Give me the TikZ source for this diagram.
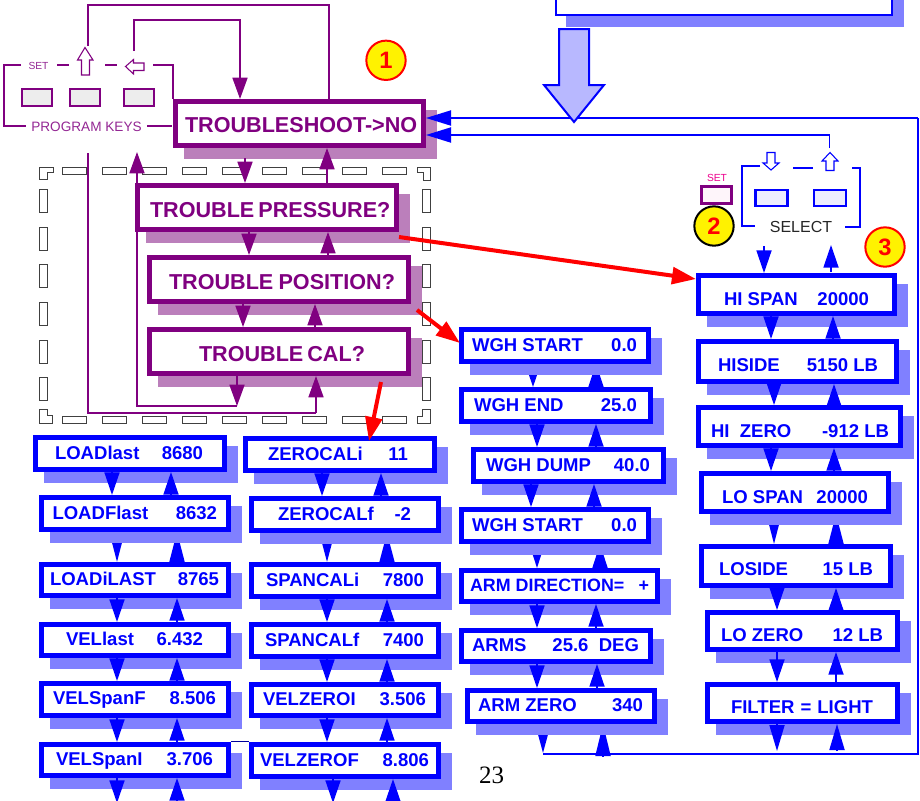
\documentclass[tikz,border=0pt]{standalone}
\usepackage{fontspec}
\setmainfont{Liberation Sans}
\newfontfamily\pagefont{Liberation Serif}
\usetikzlibrary{arrows.meta}
\pgfdeclarelayer{under}\pgfdeclarelayer{shad}\pgfdeclarelayer{arr}\pgfsetlayers{under,shad,arr,main}
\definecolor{pur}{HTML}{800080}
\definecolor{purshad}{HTML}{BB7FBB}
\definecolor{blushad}{HTML}{8080FF}
\definecolor{bigfill}{HTML}{B8B8FF}
\tikzset{
 anybox/.style={rectangle,fill=white,line width=3.75pt,inner sep=0pt},
 bluebox/.style={anybox,draw=blue,text=blue,font=\fontsize{13.9}{16}\selectfont\bfseries},
 purbox/.style={anybox,draw=pur,text=pur,font=\fontsize{16.2}{18}\selectfont\bfseries},
 blueshad/.style={fill=blushad},
 purshadow/.style={fill=purshad},
 chainb/.style={blue,line width=1.3pt,-{Triangle[width=11.25pt,length=17pt]}},
 chainu/.style={blue,line width=1.3pt,-{Triangle[width=11.25pt,length=#1]}},
 chainp/.style={pur,line width=1.3pt,-{Triangle[width=11.25pt,length=16pt]}},
 inhead/.style={blue,line width=1.4pt,-{Triangle[width=11.25pt,length=18.75pt]}},
 wireb/.style={blue,line width=1.4pt},
 wirethin/.style={blue!60!black,line width=.8pt},
 wirep/.style={pur,line width=1.3pt},
 brackb/.style={blue,line width=1.2pt},
 brackp/.style={pur,line width=1.2pt},
 redarrow/.style={red,line width=3pt,-{Triangle[width=12.5pt,length=18pt]}},
 keyp/.style={rectangle,draw=pur,fill=black!7,line width=1.8pt,minimum width=22.5pt,minimum height=12.5pt,inner sep=0pt},
 keyb/.style={rectangle,draw=blue,fill=blue!7,line width=2pt,minimum width=24pt,minimum height=12pt,inner sep=0pt},
 keym/.style={rectangle,draw=pur,fill=magenta!4,line width=2.2pt,minimum width=22.5pt,minimum height=12.75pt,inner sep=0pt},
 callout/.style={circle,fill=yellow,text=red,line width=1.5pt,minimum size=29.5pt,inner sep=0pt,font=\fontsize{17.8}{20}\selectfont\bfseries},
 framebit/.style={draw=black!75,fill=white,line width=.75pt},
 hollowb/.style={draw=blue,fill=white,line width=.8pt},
 hollowp/.style={draw=pur,fill=white,line width=.8pt},
 smalllabel/.style={inner sep=0pt,font=\fontsize{7.7}{9}\selectfont},
}
% name (x1,y1,x2,y2) (text left, text right, baseline) content
\def\setbx#1(#2,#3,#4,#5)(#6,#7,#8)#9{%
 \begin{pgfonlayer}{shad}\fill[shadsty] ({#2+11},{#3+11}) rectangle ({#4+11},{#5+11});\end{pgfonlayer}%
 \pgfmathsetlengthmacro\bxW{(#4-#2-5)*0.75pt}%
 \pgfmathsetlengthmacro\bxH{(#5-#3-5)*0.75pt}%
 \pgfmathsetlengthmacro\bxL{(#6-#2-2.5)*0.75pt}%
 \pgfmathsetlengthmacro\bxR{(#4-2.5-#7)*0.75pt}%
 \pgfmathsetlengthmacro\bxD{((#3+#5)/2-#8)*0.75pt}%
 \node[boxsty,minimum width=\bxW,minimum height=\bxH] (#1) at ({(#2+#4)/2},{(#3+#5)/2})
  {\smash{\raisebox{\bxD}{\hbox to \bxW{\kern\bxL #9\kern\bxR}}}};}
\def\bbox{\tikzset{boxsty/.style={bluebox},shadsty/.style={blueshad}}\setbx}
\def\pbox{\tikzset{boxsty/.style={purbox},shadsty/.style={purshadow}}\setbx}
\newcommand\cnat[6]{%
 \begin{pgfonlayer}{#1}%
 \coordinate (xd) at (#5,0); \coordinate (xu) at (#6,0);
 \draw[#2] (xd |- #3.south) -- (xd |- #4.north);
 \draw[#2] (xu |- #4.north) -- (xu |- #3.south);
 \end{pgfonlayer}}
\newcommand\cn{\cnat{arr}}
\newcommand\cnu{\cnat{under}}
\begin{document}
\begin{tikzpicture}[x=0.75pt,y=-0.75pt]
\useasboundingbox (0,0) rectangle (920,800);
\clip (0,0) rectangle (920,800);
% dashed frame of little outlined bars
\begin{pgfonlayer}{shad}
\clip (0,0) rectangle (920,800);
\foreach \a in {62,102,...,382} {
 \draw[framebit] (\a,167) rectangle ({\a+24},174);
 \draw[framebit] (\a,416) rectangle ({\a+24},423);
}
\foreach \b in {189,227,264,302,340,377} {
 \draw[framebit] (39.5,\b) rectangle (47.5,{\b+23});
 \draw[framebit] (422,\b) rectangle (430,{\b+23});
}
\draw[framebit] (39.5,167) -- (53,167) -- (53,172) -- (47,172) -- (47,179.5) -- (39.5,179.5) -- cycle;
\draw[framebit] (417,167) -- (430,167) -- (430,180) -- (423,180) -- (423,172.5) -- (417,172.5) -- cycle;
\draw[framebit] (39.5,409.5) -- (47,409.5) -- (47,415) -- (52.5,415) -- (52.5,423) -- (39.5,423) -- cycle;
\draw[framebit] (422.5,409.5) -- (430,409.5) -- (430,423) -- (417,423) -- (417,416) -- (422.5,416) -- cycle;
\fill[blueshad] (566,-5) rectangle (904,27);
\end{pgfonlayer}

% top box
\node[rectangle,draw=blue,fill=white,line width=1.5pt,minimum width=252pt,minimum height=18.75pt,inner sep=0pt] (topbox) at (724,2.5) {};

% purple boxes
\pbox{tsh}(173,99,426,148)(185,418,132){TROUBLESHOOT->NO}
\pbox{prs}(135,183,399,232)(150,390,217){TROUBLE PRESSURE?}
\pbox{pos}(147,255,411,304)(169,395,289){TROUBLE POSITION?}
\pbox{cal}(147,327,411,376)(199,363,361){TROUBLE CAL?}

% left column
\bbox{lla}(33,435,227,472)(55,203,459){LOADlast\hfill 8680}
\bbox{lfl}(39,495,231,532)(52.5,217,519){LOADFlast\hfill 8632}
\bbox{lil}(39,562,231,598)(50,219,585){LOADiLAST\hfill 8765}
\bbox{vla}(39,622,231,658)(66,203,645){VELlast\hfill 6.432}
\bbox{vsf}(39,681,231,718)(53,216,704){VELSpanF\hfill 8.506}
\bbox{vsi}(39,742,231,778)(56,213,765){VELSpanI\hfill 3.706}
% second column
\bbox{zci}(243,436,437,473)(268,408,460){ZEROCALi\hfill 11}
\bbox{zcf}(249,496,441,533)(278,411,520){ZEROCALf\hfill -2}
\bbox{sci}(249,562,441,599)(266,424,586){SPANCALi\hfill 7800}
\bbox{scf}(249,622,441,659)(265,424,646){SPANCALf\hfill 7400}
\bbox{vzi}(249,682,441,718)(263,426,705){VELZEROI\hfill 3.506}
\bbox{vzf}(249,742,441,779)(260,429,766){VELZEROF\hfill 8.806}
% third column
\bbox{wst}(459,327,651,364)(472,637,351){WGH START\hfill 0.0}
\bbox{wen}(459,387,653,424)(474,637,411){WGH END\hfill 25.0}
\bbox{wdu}(471,447,666,484)(486,650,471){WGH DUMP\hfill 40.0}
\bbox{wsb}(459,507,651,544)(472,637,531){WGH START\hfill 0.0}
\bbox{adr}(459,568,660,604)(470,649,591){\fontsize{13.4}{16}\selectfont ARM DIRECTION=\hfill +}
\bbox{arm}(459,628,653,664)(472,639,651){ARMS\hfill 25.6\ \ DEG}
\bbox{azr}(465,688,657,724)(478,643,711){ARM ZERO\hfill 340}
% fourth column
\bbox{hsp}(696,273,897,316)(724,869,305){HI SPAN\hfill 20000}
\bbox{hsd}(696,339,899,384)(718,878,371){HISIDE\hfill 5150 LB}
\bbox{hze}(696,405,903,448)(711,889,437){HI\ \ ZERO\hfill -912 LB}
\bbox{lsp}(699,471,891,514)(722,868,503){LO SPAN\hfill 20000}
\bbox{lsd}(699,544,893,588)(719,873,575){LOSIDE\hfill 15 LB}
\bbox{lze}(705,610,900,652)(721,883,641){LO ZERO\hfill 12 LB}
\bbox{fil}(705,682,900,724)(731,873,713){FILTER = LIGHT}

% chain arrows
\coordinate (tshd) at (245,158);
\coordinate (tshu) at (327,183);
\begin{pgfonlayer}{arr}
\draw[chainp] (tshd) -- (tshd |- prs.north);
\draw[chainp] (tshu |- prs.north) -- (tshu |- tsh.south);
\end{pgfonlayer}
\cn{chainp}{prs}{pos}{249}{328}
\cn{chainp}{pos}{cal}{243}{315}
\cn{chainb}{lla}{lfl}{112}{171}
\cnu{chainu=22.5pt}{lfl}{lil}{117}{177}
\cn{chainb}{lil}{vla}{117}{177}
\cn{chainb}{vla}{vsf}{117}{177}
\cn{chainb}{vsf}{vsi}{117}{177}
\cn{chainb}{zci}{zcf}{322}{381}
\cnu{chainu=22pt}{zcf}{sci}{327}{387}
\cn{chainb}{sci}{scf}{327}{387}
\cn{chainb}{scf}{vzi}{327}{387}
\cn{chainb}{vzi}{vzf}{327}{387}
\cnu{chainu=17.25pt}{wst}{wen}{533}{596}
\cn{chainb}{wen}{wdu}{537}{596}
\cn{chainb}{wdu}{wsb}{531}{594}
\cnu{chainu=18pt}{wsb}{adr}{537}{600}
\cn{chainb}{adr}{arm}{537}{596}
\cn{chainb}{arm}{azr}{537}{597}
\cn{chainb}{hsp}{hsd}{771}{833}
\cn{chainb}{hsd}{hze}{774}{834}
\cn{chainb}{hze}{lsp}{771}{834}
\cnu{chainu=22.5pt}{lsp}{lsd}{774}{836}
\cn{chainb}{lsd}{lze}{777}{836}
\cn{chainb}{lze}{fil}{777}{836}

% keys and labels
\node[keyp] (k1) at (37,97.5) {};
\node[keyp] (k2) at (85,97.5) {};
\node[keyp] (k3) at (139,97.5) {};
\node[smalllabel,text=pur!85] (setp) at (38.5,66) {SET};
\node[inner sep=0pt,text=pur!85,font=\fontsize{10.2}{12}\selectfont] (pk) at (86.5,127) {PROGRAM KEYS};
\node[keyb] (k4) at (771.5,198) {};
\node[keyb] (k5) at (830,198) {};
\node[keym] (k6) at (716.5,195) {};
\node[smalllabel,text=magenta] (setm) at (717,178) {SET};
\node[inner sep=0pt,text=black!85,font=\fontsize{12}{14}\selectfont] (sel) at (801,227) {SELECT};
\node[callout,draw=red] (c1) at (386,60.3) {1};
\node[callout,draw=black] (c2) at (714,226) {2};
\node[callout,draw=red] (c3) at (885,247) {3};
\node[inner sep=0pt,anchor=base,font=\pagefont\fontsize{18.75}{20}\selectfont] (pg) at (491.5,783) {23};

% key frames
\draw[brackp] (21,65) -- (4,65) -- (4,126) -- (26,126);
\draw[brackp] (147,126) -- (172,126);
\draw[brackp] (153,65) -- (173,65) -- (173 ,99);
\draw[brackp] (57,65) -- (69,65);
\draw[brackp] (105,65) -- (117,65);
\draw[brackb] (760,166) -- (742,166) -- (742,226) -- (755,226);
\draw[brackb] (852,168) -- (860,168) -- (860,227) -- (845,227);
\draw[brackb] (793,168) -- (813,168);

% hollow key arrows
\draw[hollowp] (85,47.5) -- (93,60) -- (89.5,60) -- (89.5,75) -- (81.5,75) -- (81.5,60) -- (77.5,60) -- cycle;
\draw[hollowp] (125.5,66.5) -- (133.5,59.5) -- (133.5,63) -- (144,63) -- (144,70.5) -- (133.5,70.5) -- (133.5,74) -- cycle;
\draw[hollowb] (771,170) -- (763,163) -- (767,163) -- (767,152.5) -- (775,152.5) -- (775,163) -- (779,163) -- cycle;
\draw[hollowb] (830,152.5) -- (838,161) -- (834,161) -- (834,170.5) -- (826,170.5) -- (826,161) -- (822,161) -- cycle;

% free ends of connectors
\coordinate (calbot) at (237,406);
\coordinate (calup) at (316,413);
\coordinate (keyupbot) at (88,153);
\coordinate (keyupout) at (88,46);
\coordinate (keyleftout) at (134,51);
\coordinate (keyleftbot) at (137,152);
\coordinate (pagel1) at (117,803);
\coordinate (pagel2) at (177,815);
\coordinate (pagel3) at (333,803);
\coordinate (pagel4) at (393,815);
\coordinate (azrend) at (543,753);
\coordinate (azrup) at (603,756);
\coordinate (filend) at (777,751);
\coordinate (filup) at (837,751);
\coordinate (rbot) at (918,754);
\coordinate (rtop) at (918,118);
\coordinate (lbot) at (543,754);
\coordinate (in1) at (426,118);
\coordinate (in2) at (426,135);
\coordinate (selup) at (829.5,135);
\coordinate (selstop) at (829.5,148);
\coordinate (sd1) at (764,246);
\coordinate (sd2) at (831,272);
\coordinate (sd2tip) at (831,245);
\coordinate (sd3) at (329,5);
\coordinate (sd4) at (240,20);
\coordinate (thin) at (0,741.5);
\coordinate (r1s) at (399,237);
\coordinate (r1e) at (696,279);
\coordinate (r2s) at (417,310);
\coordinate (r2e) at (460,343);
\coordinate (r3s) at (381,382);
\coordinate (r3e) at (369,441);

\begin{pgfonlayer}{under}
\draw[chainu=21.5pt] (lbot |- azr.south) -- (azrend);
\draw[chainu=24pt] (azrup) -- (azrup |- azr.south);
\end{pgfonlayer}
\begin{pgfonlayer}{arr}
\clip (0,0) rectangle (920,800);
\draw[chainp] (calbot |- cal.south) -- (calbot);
\draw[chainp] (calup) -- (calup |- cal.south);
\draw[wirep] (calbot) -- (keyleftbot |- calbot) -- (keyleftbot |- prs.south);
\draw[chainp] (keyleftbot |- prs.north) -- (keyleftbot);
\draw[wirep] (keyupbot) -- (keyupbot |- calup) -- (calup);
\draw[wirep] (keyupout) -- (keyupout |- sd3) -- (sd3) -- (sd3 |- tsh.north);
\draw[chainp] (keyleftout) -- (keyleftout |- sd4) -- (sd4) -- (sd4 |- tsh.north);
\draw[chainb] (pagel1 |- vsi.south) -- (pagel1);
\draw[chainb] (pagel2) -- (pagel2 |- vsi.south);
\draw[chainb] (pagel3 |- vzf.south) -- (pagel3);
\draw[chainb] (pagel4) -- (pagel4 |- vzf.south);
\draw[chainu=19.5pt] (filend |- fil.south) -- (filend);
\draw[chainu=19.5pt] (filup) -- (filup |- fil.south);
\draw[chainb] (sd1) -- (sd1 |- hsp.north);
\draw[chainb] (sd2) -- (sd2tip);
\draw[wirethin] (vsi.north east |- thin) -- (vzf.north west |- thin);
\end{pgfonlayer}

% blue return lines
\draw[wireb] (lbot) -- (rbot) -- (rtop);
\draw[inhead] (rtop) -- (in1);
\draw[inhead] (selstop) -- (selup) -- (in2);

% big arrow from the top box
\draw[draw=blue,fill=bigfill,line width=1.5pt] (559,29) -- (589,29) -- (589,85) -- (604,85) -- (574,122) -- (544,85) -- (559,85) -- cycle;

% red arrows
\draw[redarrow] (r1s) -- (r1e);
\draw[redarrow] (r2s) -- (r2e);
\draw[redarrow] (r3s) -- (r3e);
\end{tikzpicture}
\end{document}
